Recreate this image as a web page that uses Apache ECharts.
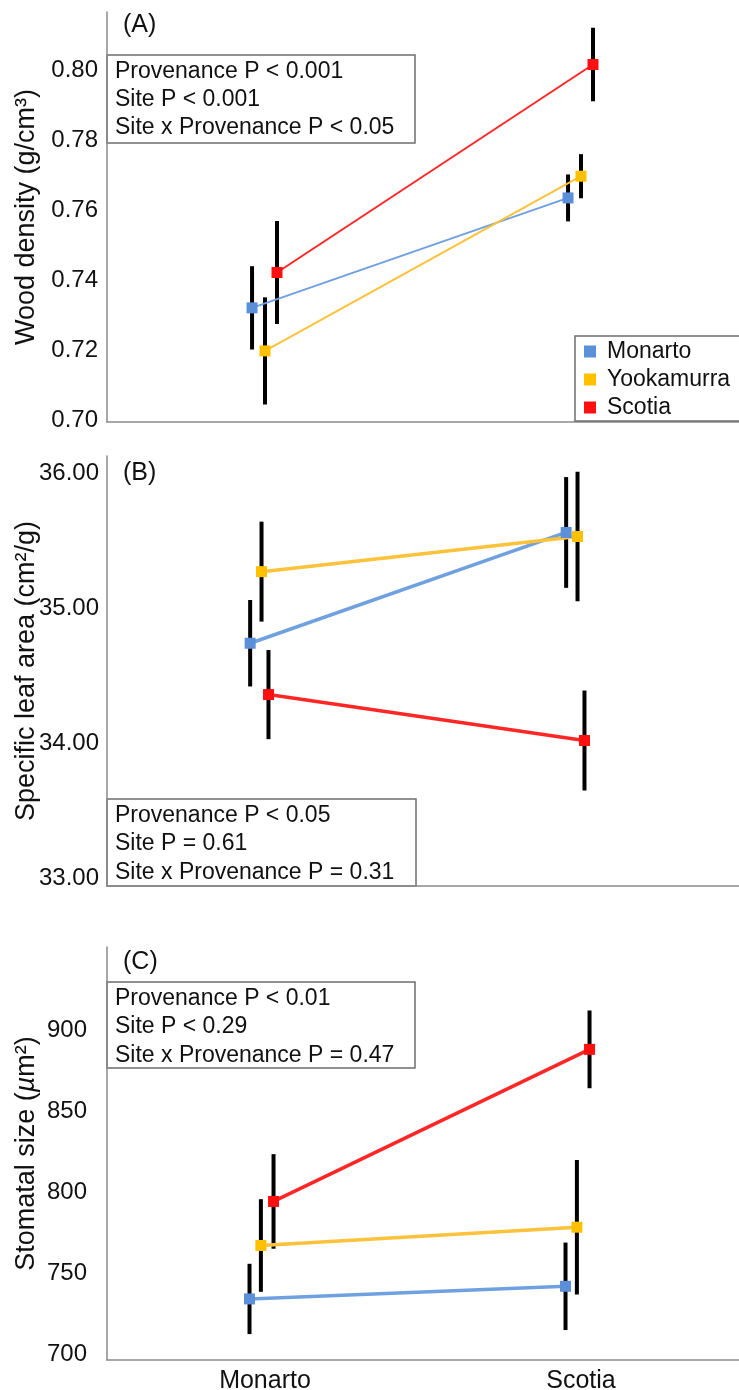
<!DOCTYPE html>
<html>
<head>
<meta charset="utf-8">
<script src="https://cdn.jsdelivr.net/npm/echarts@6/dist/echarts.min.js"></script>
<style>
  html, body { margin: 0; padding: 0; background: #fff; }
  #chart { width: 739px; height: 1390px; }
</style>
</head>
<body>
<div id="chart"></div>
<script>
// Growth sites along the x axis and seed provenances drawn as series
const sites = ['Monarto', 'Scotia'];
const provenances = ['Monarto', 'Yookamurra', 'Scotia'];

// (A) Wood density, g/cm3: means and standard errors at [Monarto, Scotia]
const densityMonarto = [0.7321, 0.7635];
const densityMonartoSE = [0.0119, 0.0067];
const densityYookamurra = [0.7198, 0.7697];
const densityYookamurraSE = [0.0153, 0.0063];
const densityScotia = [0.7422, 0.8016];
const densityScotiaSE = [0.0147, 0.0105];
const densityTicks = [0.70, 0.72, 0.74, 0.76, 0.78, 0.80];
const densityStats = ['Provenance P < 0.001', 'Site P < 0.001', 'Site x Provenance P < 0.05'];

// (B) Specific leaf area, cm2/g
const slaMonarto = [34.74, 35.56];
const slaMonartoSE = [0.32, 0.41];
const slaYookamurra = [35.27, 35.53];
const slaYookamurraSE = [0.37, 0.48];
const slaScotia = [34.36, 34.02];
const slaScotiaSE = [0.33, 0.37];
const slaTicks = [33, 34, 35, 36];
const slaStats = ['Provenance P < 0.05', 'Site P = 0.61', 'Site x Provenance P = 0.31'];

// (C) Stomatal size, um2
const stomaMonarto = [734.0, 741.8];
const stomaMonartoSE = [21.7, 27.0];
const stomaYookamurra = [767.0, 778.3];
const stomaYookamurraSE = [28.6, 41.5];
const stomaScotia = [794.2, 888.1];
const stomaScotiaSE = [29.2, 24.0];
const stomaTicks = [700, 750, 800, 850, 900];
const stomaStats = ['Provenance P < 0.01', 'Site P < 0.29', 'Site x Provenance P = 0.47'];

const FONT = '"Liberation Sans", Arial, Helvetica, sans-serif';
const markerColors = ['#5B8FD8', '#FFC000', '#FF1010'];
const lineColors = ['#6FA0E0', '#FBC23A', '#FF2626'];
const AXIS_GREY = '#8a8a8a';

const panels = [
  {
    key: 'A',
    grid: { left: 107, right: 0, top: 12, height: 410 },
    yMin: 0.6995, yMax: 0.8166, ticks: densityTicks, digits: 2, labelMargin: 9,
    name: 'Wood density (g/cm³)',
    means: [densityMonarto, densityYookamurra, densityScotia],
    errs: [densityMonartoSE, densityYookamurraSE, densityScotiaSE],
    dodge: [-0.041, 0, 0.038],
    lineWidth: 2,
    stats: densityStats,
    box: { x: 107, y: 55, w: 308, h: 88, pad: 3, lh: 28 },
    tagY: 25
  },
  {
    key: 'B',
    grid: { left: 107, right: 0, top: 456, height: 430 },
    yMin: 32.943, yMax: 36.126, ticks: slaTicks, digits: 2, labelMargin: 8,
    name: 'Specific leaf area (cm²/g)',
    means: [slaMonarto, slaYookamurra, slaScotia],
    errs: [slaMonartoSE, slaYookamurraSE, slaScotiaSE],
    dodge: [-0.047, -0.011, 0.011],
    lineWidth: 3.5,
    stats: slaStats,
    box: { x: 107, y: 799, w: 309, h: 87, pad: 2, lh: 28.5 },
    tagY: 473
  },
  {
    key: 'C',
    grid: { left: 107, right: 0, top: 947, height: 413 },
    yMin: 696.3, yMax: 951.3, ticks: stomaTicks, digits: 0, labelMargin: 20,
    name: '{n|Stomatal size (}{i|µ}{n|m²)}',
    means: [stomaMonarto, stomaYookamurra, stomaScotia],
    errs: [stomaMonartoSE, stomaYookamurraSE, stomaScotiaSE],
    dodge: [-0.049, -0.013, 0.027],
    lineWidth: 3.5,
    stats: stomaStats,
    box: { x: 107, y: 982, w: 308, h: 86, pad: 2, lh: 28.5 },
    tagY: 962
  }
];

const grids = [], xAxes = [], yAxes = [], series = [], graphics = [];

panels.forEach((p, pi) => {
  const last = pi === panels.length - 1;
  grids.push(Object.assign({ containLabel: false, outerBoundsMode: 'none' }, p.grid));

  xAxes.push({
    type: 'value', gridIndex: pi, min: 0, max: 2,
    axisLine: { show: true, lineStyle: { color: AXIS_GREY, width: 1.5 } },
    axisTick: { show: false },
    splitLine: { show: false },
    axisLabel: {
      show: last,
      customValues: [0.5, 1.5],
      formatter: v => sites[Math.round(v - 0.5)],
      fontFamily: FONT, fontSize: 25, color: '#111', margin: 9
    }
  });

  yAxes.push({
    type: 'value', gridIndex: pi, min: p.yMin, max: p.yMax,
    name: p.name, nameLocation: 'middle', nameGap: 67, nameMoveOverlap: false,
    nameTextStyle: {
      fontFamily: FONT, fontSize: 27, color: '#111',
      rich: {
        n: { fontFamily: FONT, fontSize: 27, color: '#111' },
        i: { fontFamily: FONT, fontSize: 27, color: '#111', fontStyle: 'italic' }
      }
    },
    axisLine: { show: true, lineStyle: { color: AXIS_GREY, width: 1.5 } },
    axisTick: { show: false },
    splitLine: { show: false },
    axisLabel: {
      customValues: p.ticks,
      formatter: v => Number(v).toFixed(p.digits),
      fontFamily: FONT, fontSize: 24, color: '#111', margin: p.labelMargin
    }
  });

  provenances.forEach((prov, si) => {
    const xs = sites.map((s, k) => k + 0.5 + p.dodge[si]);
    // standard-error bars
    series.push({
      type: 'custom', name: prov + ' SE ' + p.key,
      xAxisIndex: pi, yAxisIndex: pi, z: 2, silent: true,
      data: xs.map((x, k) => [x, p.means[si][k] - p.errs[si][k], p.means[si][k] + p.errs[si][k]]),
      encode: { x: 0, y: [1, 2] },
      renderItem: (params, api) => {
        const a = api.coord([api.value(0), api.value(1)]);
        const b = api.coord([api.value(0), api.value(2)]);
        return {
          type: 'line',
          shape: { x1: a[0], y1: a[1], x2: b[0], y2: b[1] },
          style: { stroke: '#000', lineWidth: 4 }
        };
      }
    });
    // provenance means joined across the two sites
    series.push({
      type: 'line', name: prov,
      xAxisIndex: pi, yAxisIndex: pi, z: 3, silent: true,
      data: xs.map((x, k) => [x, p.means[si][k]]),
      symbol: 'rect', symbolSize: 11, showAllSymbol: true,
      lineStyle: { color: lineColors[si], width: p.lineWidth },
      itemStyle: { color: markerColors[si] },
      animation: false
    });
  });

  // panel tag
  graphics.push({
    type: 'text', x: 123, y: p.tagY, z: 10,
    style: { text: '(' + p.key + ')', font: '25px ' + FONT, fill: '#111', verticalAlign: 'middle' }
  });

  // statistics box
  graphics.push({
    type: 'group', x: p.box.x, y: p.box.y, z: 10,
    children: [
      { type: 'rect', shape: { x: 0, y: 0, width: p.box.w, height: p.box.h },
        style: { fill: '#fff', stroke: '#6e6e6e', lineWidth: 1.5 } },
      { type: 'text', x: 8, y: p.box.pad,
        style: { text: p.stats.join('\n'), font: '23px ' + FONT, lineHeight: p.box.lh, fill: '#111' } }
    ]
  });
});

const chart = echarts.init(document.getElementById('chart'), null, { renderer: 'canvas' });
chart.setOption({
  animation: false,
  backgroundColor: '#fff',
  grid: grids,
  xAxis: xAxes,
  yAxis: yAxes,
  legend: {
    data: provenances,
    orient: 'vertical',
    left: 575, top: 336,
    icon: 'rect', itemWidth: 12, itemHeight: 12, itemGap: 5,
    selectedMode: false,
    textStyle: { fontFamily: FONT, fontSize: 23, color: '#111', padding: [0, 0, 0, 6] },
    backgroundColor: '#fff',
    borderColor: '#6e6e6e', borderWidth: 1.5,
    padding: [4, 20, 2, 9]
  },
  graphic: graphics,
  series: series
});
</script>
</body>
</html>
